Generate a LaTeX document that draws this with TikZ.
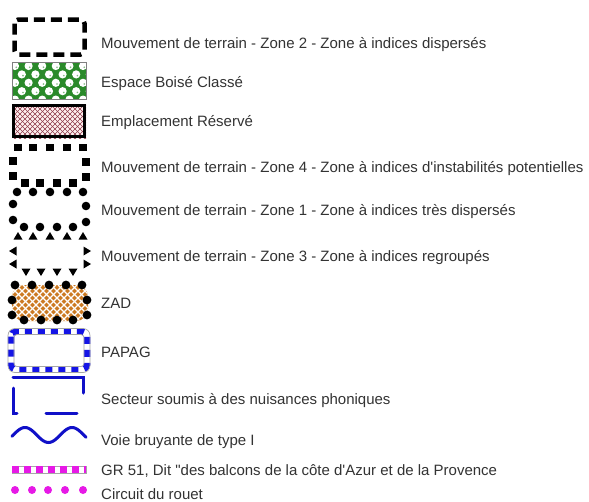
\documentclass[tikz,border=0pt]{standalone}
\usepackage{fontspec}
\setmainfont{Liberation Sans}[Ligatures=TeXOff]
\usetikzlibrary{positioning}
\definecolor{txt}{HTML}{333333}
\definecolor{ebc}{HTML}{2A8A2A}
\definecolor{er}{HTML}{8E3A4A}
\definecolor{zad}{HTML}{CC7A22}
\definecolor{papag}{HTML}{1414E6}
\definecolor{bruit}{HTML}{1010C8}
\definecolor{gr}{HTML}{E619E6}

\begin{document}
\begin{tikzpicture}[
  x=1pt, y=-1pt,
  lbl/.style={anchor=base west, font=\fontsize{15}{17}\selectfont, text=txt, inner sep=0pt},
  sqm/.style={fill=black},
  dotm/.style={fill=black},
]
\fill[white] (0,0) rectangle (589,501);
\useasboundingbox (0,0) rectangle (589,501);

% zone 2 - dashed frame
\draw[line width=4.5, dash pattern=on 11 off 6, rounded corners=4] (14.5,19.5) rectangle (84.5,54.5);
\node[lbl] (z2) at (101,48) {Mouvement de terrain - Zone 2 - Zone à indices dispersés};

% espace boise classe
\fill[ebc] (12,62) rectangle (86,99);
\begin{scope}
  \clip (12,62) rectangle (86,99);
  \foreach \r in {0,...,4} {
    \foreach \c in {0,...,6} {
      \pgfmathsetmacro\cx{15+6.8*mod(\r,2)+13.6*\c}
      \pgfmathsetmacro\cy{66+8.4*\r}
      \fill[white] (\cx,\cy) circle (4.1);
      \fill[ebc!60] (\cx+1.2,\cy+1.2) circle (0.9);
    }
  }
\end{scope}
\draw[gray, line width=0.6] (12,62) rectangle (86,99);
\node[lbl] (ebcl) at (101,87) {Espace Boisé Classé};

% emplacement reserve
\fill[pink!25] (12,104) rectangle (86,138);
\begin{scope}
  \clip (12,104) rectangle (86,138);
  \foreach \k in {-40,-35,...,90} {
    \draw[er, line width=0.6] (\k,104) -- ++(40,40);
    \draw[er, line width=0.6] (\k+40,104) -- ++(-40,40);
  }
\end{scope}
\draw[line width=3] (13.5,105.5) rectangle (84.5,136.5);
\node[lbl] (erl) at (101,126) {Emplacement Réservé};

% zone 4 - squares
\foreach \x in {18,33,50,67,83} \fill[sqm] (\x-3.75,143.75) rectangle ++(7.5,7.5);
\foreach \y in {161,176} {
  \fill[sqm] (13-3.75,\y-3.75) rectangle ++(7.5,7.5);
  \fill[sqm] (86-3.75,\y+1-3.75) rectangle ++(7.5,7.5);
}
\foreach \x in {25,40,57,73} \fill[sqm] (\x-3.75,183-3.75) rectangle ++(7.5,7.5);
\node[lbl] (z4) at (101,172) {Mouvement de terrain - Zone 4 - Zone à indices d'instabilités potentielles};

% zone 1 - dots
\foreach \x in {17,33,50,67,83} \fill[dotm] (\x,192) circle (4.3);
\foreach \y in {204,220} {
  \fill[dotm] (13,\y) circle (4.3);
  \fill[dotm] (86,\y+2) circle (4.3);
}
\foreach \x in {24,40,57,73} \fill[dotm] (\x,227) circle (4.3);
\node[lbl] (z1) at (101,215) {Mouvement de terrain - Zone 1 - Zone à indices très dispersés};

% zone 3 - triangles
\foreach \x in {18,33,50,67,83} \fill (\x,232) -- (\x+4.5,239.5) -- (\x-4.5,239.5) -- cycle;
\foreach \y in {251,264} {
  \fill (9,\y) -- (16.5,\y-4.5) -- (16.5,\y+4.5) -- cycle;
  \fill (91,\y) -- (83.5,\y-4.5) -- (83.5,\y+4.5) -- cycle;
}
\foreach \x in {26,41,57,73} \fill (\x,276) -- (\x+4.5,268.5) -- (\x-4.5,268.5) -- cycle;
\node[lbl] (z3) at (101,261) {Mouvement de terrain - Zone 3 - Zone à indices regroupés};

% zad
\fill[zad] (12,285) [rounded corners=12] rectangle (88,321);
\begin{scope}
  \clip (12,285) [rounded corners=12] rectangle (88,321);
  \foreach \k in {-40,-33,...,95} {
    \draw[white, line width=1.1] (\k,285) -- ++(40,40);
    \draw[white, line width=1.1] (\k+40,285) -- ++(-40,40);
  }
\end{scope}
\foreach \x in {15,32,49,66,82} \fill[dotm] (\x,285) circle (4.4);
\foreach \y in {300,315} {
  \fill[dotm] (12,\y) circle (4.4);
  \fill[dotm] (87,\y) circle (4.4);
}
\foreach \x in {24,41,57,73} \fill[dotm] (\x,320) circle (4.4);
\node[lbl] (zadl) at (101,308) {ZAD};

% papag
\draw[papag, line width=6.5, dash pattern=on 7 off 6, rounded corners=5] (11,331.5) rectangle (87,369.5);
\draw[gray!70, line width=0.7, rounded corners=7] (8,328.5) rectangle (90,372.5);
\draw[gray!70, line width=0.7, rounded corners=3] (14,334.5) rectangle (84,366.5);
\node[lbl] (papagl) at (101,357) {PAPAG};

% secteur nuisances phoniques
\draw[bruit, line width=3, line cap=round] (13,377) -- (83,377) -- (83,393);
\draw[bruit, line width=3, line cap=round] (13,388) -- (13,413) -- (17,413);
\draw[bruit, line width=3, line cap=round] (46,413) -- (77,413);
\node[lbl] (secl) at (101,404) {Secteur soumis à des nuisances phoniques};

% voie bruyante
\draw[bruit, line width=3, line cap=round, domain=12:86, samples=80, smooth]
  plot (\x, {435-7.5*cos(7.66*(\x-25))});
\node[lbl] (voiel) at (101,445) {Voie bruyante de type I};

% gr 51
\draw[gray!70, line width=0.6] (12,466) rectangle (86,473);
\draw[gr, line width=7, dash pattern=on 7 off 5] (12,469.5) -- (86,469.5);
\node[lbl] (grl) at (101,475) {GR 51, Dit "des balcons de la côte d'Azur et de la Provence};

% circuit du rouet
\foreach \x in {15,32,48,65,83} \fill[gr] (\x,490) circle (4);
\node[lbl] (rouetl) at (101,499) {Circuit du rouet};

\end{tikzpicture}
\end{document}
